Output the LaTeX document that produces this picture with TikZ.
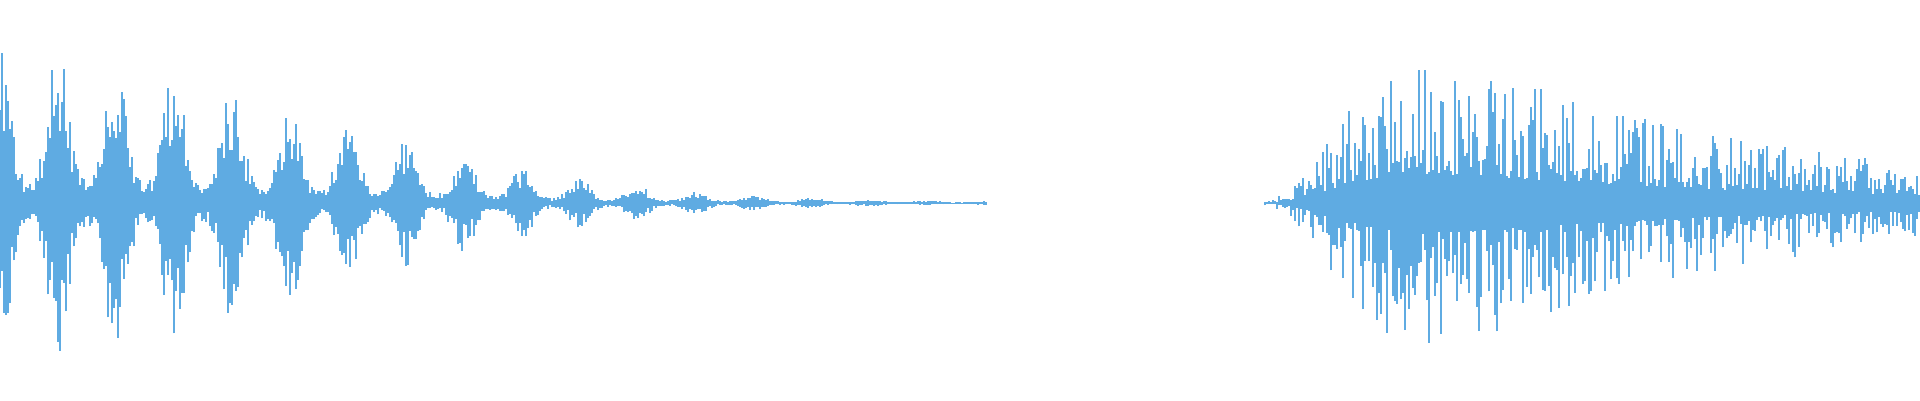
\documentclass[tikz,border=0pt]{standalone}
\usepackage{tikz}
\definecolor{wavecol}{RGB}{95,171,226}
\tikzstyle{wave} = [draw=wavecol, line width=0.45pt]

\begin{document}
\begin{tikzpicture}
  \useasboundingbox (0,0) rectangle (19.2,4);
  \pgfmathsetseed{42}
  % First sound: decaying bursts
  \foreach \i in {0,...,493} {
    \pgfmathsetmacro{\x}{\i*0.02}
    \pgfmathsetmacro{\amp}{1.55*exp(-(\x/4.3)^2)*(0.15+0.85*abs(cos(\x*310))^3)+0.01}
    \pgfmathsetmacro{\lo}{\amp*(0.4+0.6*rnd)}
    \pgfmathsetmacro{\hi}{\amp*(0.4+0.6*rnd)}
    \path[wave] (\x,1.97-\lo) -- (\x,1.97+\hi);
  }
  % Second sound: rise and slow decay
  \foreach \i in {0,...,327} {
    \pgfmathsetmacro{\t}{\i*0.02}
    \pgfmathsetmacro{\amp}{2.6*(1-exp(-(\t/1.1)^2))*exp(-\t/3.3)+0.03}
    \pgfmathsetmacro{\lo}{\amp*(0.2+0.8*rnd^2)}
    \pgfmathsetmacro{\hi}{\amp*(0.2+0.8*rnd^2)}
    \path[wave] (12.65+\t,1.97-\lo) -- (12.65+\t,1.97+\hi);
  }
\end{tikzpicture}
\end{document}
